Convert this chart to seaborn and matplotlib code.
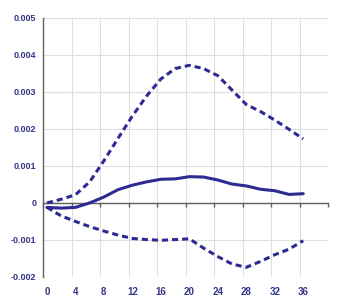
import numpy as np
import pandas as pd
import seaborn as sns
import matplotlib.pyplot as plt

# periods and impulse response (with upper / lower bands)
periods = [0, 2, 4, 6, 8, 10, 12, 14, 16, 18, 20, 22, 24, 26, 28, 30, 32, 34, 36]
response = [-0.00012, -0.00014, -0.00012, 0.0, 0.00016, 0.00036, 0.00048, 0.00057, 0.00064, 0.00065,
            0.00071, 0.0007, 0.00062, 0.00051, 0.00046, 0.00037, 0.00033, 0.00023, 0.00025]
upper = [0.0, 0.0001, 0.00022, 0.00057, 0.00114, 0.00175, 0.00235, 0.00289, 0.00335, 0.00363,
         0.00372, 0.00363, 0.00344, 0.00305, 0.00266, 0.00247, 0.00224, 0.00199, 0.00173]
lower = [-0.00012, -0.00035, -0.0005, -0.00064, -0.00076, -0.00087, -0.00096, -0.00099, -0.00101, -0.00099,
         -0.00097, -0.00122, -0.00145, -0.00165, -0.00174, -0.00158, -0.0014, -0.00125, -0.00102]

x_labels = [0, 4, 8, 12, 16, 20, 24, 28, 32, 36]
y_labels = ["-0.002", "-0.001", "0", "0.001", "0.002", "0.003", "0.004", "0.005"]

df = pd.DataFrame({"period": periods, "response": response, "upper": upper, "lower": lower})

sns.set_style("white")
plt.rcParams['font.family'] = ['Liberation Sans', 'DejaVu Sans']

navy = "#2d2a92"
txt = "#35358a"

fig = plt.figure(figsize=(3.39, 3.04), dpi=100)
ax = fig.add_axes([0.128, 0.089, 0.84, 0.852])

# bands dashed, response solid
sns.lineplot(data=df, x="period", y="upper", ax=ax, color=navy, lw=2.2, linestyle=(0, (2.0, 1.3)))
sns.lineplot(data=df, x="period", y="lower", ax=ax, color=navy, lw=2.2, linestyle=(0, (2.0, 1.3)))
sns.lineplot(data=df, x="period", y="response", ax=ax, color=navy, lw=2.2)

ax.set_xlim(-0.5, 39.5)
ax.set_ylim(-0.002, 0.005)

yticks = np.arange(-0.002, 0.0051, 0.001)
ax.set_yticks(yticks)
ax.set_yticklabels(y_labels)
ax.set_xticks(x_labels)
ax.set_xticklabels([str(v) for v in x_labels])
ax.set_xticks(np.arange(3.5, 40, 4), minor=True)

ax.grid(True, axis="y", color="#dedede", lw=0.8)
ax.grid(True, axis="x", which="minor", color="#dedede", lw=0.8)
ax.set_axisbelow(True)

for s in ["top", "right", "bottom"]:
    ax.spines[s].set_visible(False)
ax.spines["left"].set_color("#606060")
ax.spines["left"].set_linewidth(1.0)

ax.tick_params(axis="y", which="major", length=3, width=1, color="#606060", pad=2,
               labelsize=6.5, labelcolor=txt)
ax.tick_params(axis="x", which="major", length=0, pad=7, labelsize=7, labelcolor=txt)
ax.tick_params(axis="x", which="minor", length=0)
for lab in ax.get_xticklabels() + ax.get_yticklabels():
    lab.set_fontweight("bold")

# zero line with category tick marks
zero_ax = ax.secondary_xaxis(2 / 7)
zero_ax.set_zorder(1.5)
zero_ax.set_xticks(np.arange(-0.5, 40, 4))
zero_ax.set_xticklabels([])
zero_ax.tick_params(axis="x", length=3, width=1, color="#606060", direction="out")
zero_ax.spines["bottom"].set_color("#606060")
zero_ax.spines["bottom"].set_linewidth(1.0)

ax.set_xlabel("")
ax.set_ylabel("")

plt.savefig("out.png", dpi=100)
